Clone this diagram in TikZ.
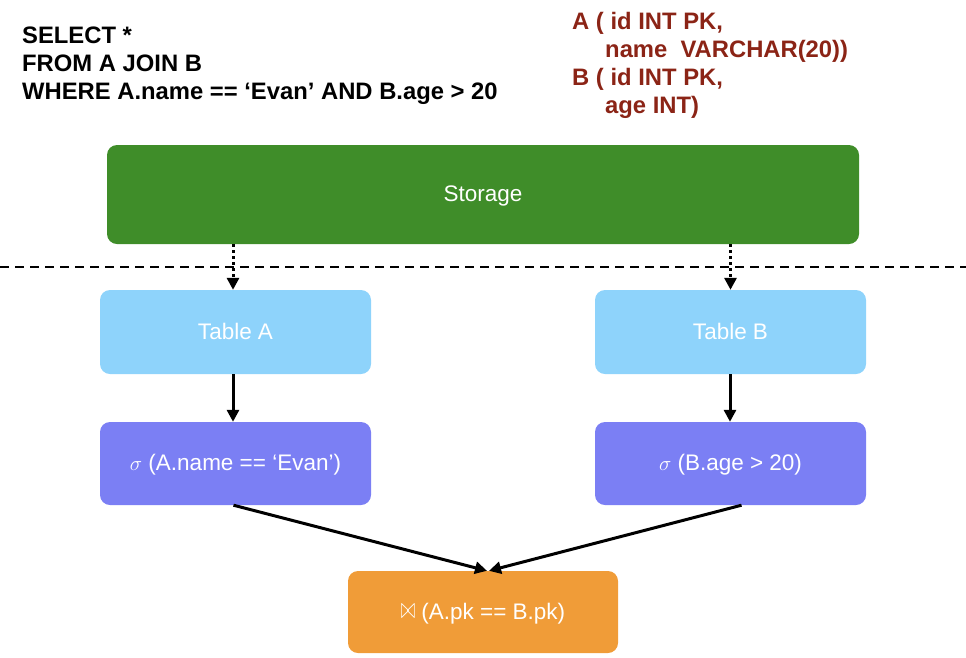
\documentclass[tikz,border=0pt]{standalone}
\usepackage{fontspec}
\setmainfont{Liberation Sans}
\usetikzlibrary{arrows.meta,positioning}
\definecolor{storagegreen}{HTML}{3F8D29}
\definecolor{tableblue}{HTML}{8ED3FB}
\definecolor{selectpurple}{HTML}{7B7FF4}
\definecolor{joinorange}{HTML}{F09C38}
\definecolor{schemared}{HTML}{8B2416}
\newcommand{\joinsym}{\raisebox{0.5pt}{\scalebox{0.85}[1.45]{$\bowtie$}}}

\begin{document}
\begin{tikzpicture}[x=1pt,y=-1pt,
    box/.style={rounded corners=10pt, inner sep=0pt, text=white,
      font=\fontsize{22.5}{26}\selectfont, minimum width=271pt, minimum height=84pt,
      text depth=2pt},
    flow/.style={line width=3pt, -{Triangle[width=12pt,length=12pt]}},
    label/.style={inner sep=0pt, align=left, font=\fontsize{23.8}{28}\selectfont\bfseries}]
\useasboundingbox (0,0) rectangle (966,657);
\def \colA {235.5}
\def \colB {730.5}

% query and schema
\node[label, anchor=north west] (query) at (22,27)
  {SELECT *\\FROM A JOIN B\\WHERE A.name == ‘Evan’ AND B.age > 20};
\node[label, anchor=north west, text=schemared] (schema) at (572,12)
  {A ( id INT PK,\\\hspace*{33pt}name\ \ VARCHAR(20))\\B ( id INT PK,\\\hspace*{33pt}age INT)};

% plan
\node[box, fill=storagegreen, minimum width=752pt, minimum height=99pt] (storage) at (483,194.5) {Storage};
\node[box, fill=tableblue] (tableA) at (\colA,332) {Table A};
\node[box, fill=tableblue] (tableB) at (\colB,332) {Table B};
\node[box, fill=selectpurple, minimum height=83pt] (selA) at (\colA,463.5) {$\sigma$ (A.name == ‘Evan’)};
\node[box, fill=selectpurple, minimum height=83pt] (selB) at (\colB,463.5) {$\sigma$ (B.age > 20)};
\node[box, fill=joinorange, minimum width=270pt, minimum height=82pt] (join) at (483,612) {\joinsym\ (A.pk == B.pk)};

\coordinate (cutL) at (0,267);
\coordinate (cutR) at (966,267);
\draw[line width=2.5pt, dash pattern=on 9pt off 6pt] (cutL) -- (cutR);

\draw[flow, dash pattern=on 3pt off 3pt] ([xshift=-2.5pt]tableA.north |- storage.south) -- ([xshift=-2.5pt]tableA.north);
\draw[flow, dash pattern=on 3pt off 3pt] (tableB.north |- storage.south) -- (tableB.north);
\draw[flow] ([xshift=-2.5pt]tableA.south) -- ([xshift=-2.5pt]selA.north);
\draw[flow] ([xshift=-0.5pt]tableB.south) -- ([xshift=-0.5pt]selB.north);
\draw[flow] ([xshift=-2pt]selA.south) -- ([xshift=4pt]join.north);
\draw[flow] ([xshift=11pt]selB.south) -- ([xshift=6pt]join.north);
\end{tikzpicture}
\end{document}
